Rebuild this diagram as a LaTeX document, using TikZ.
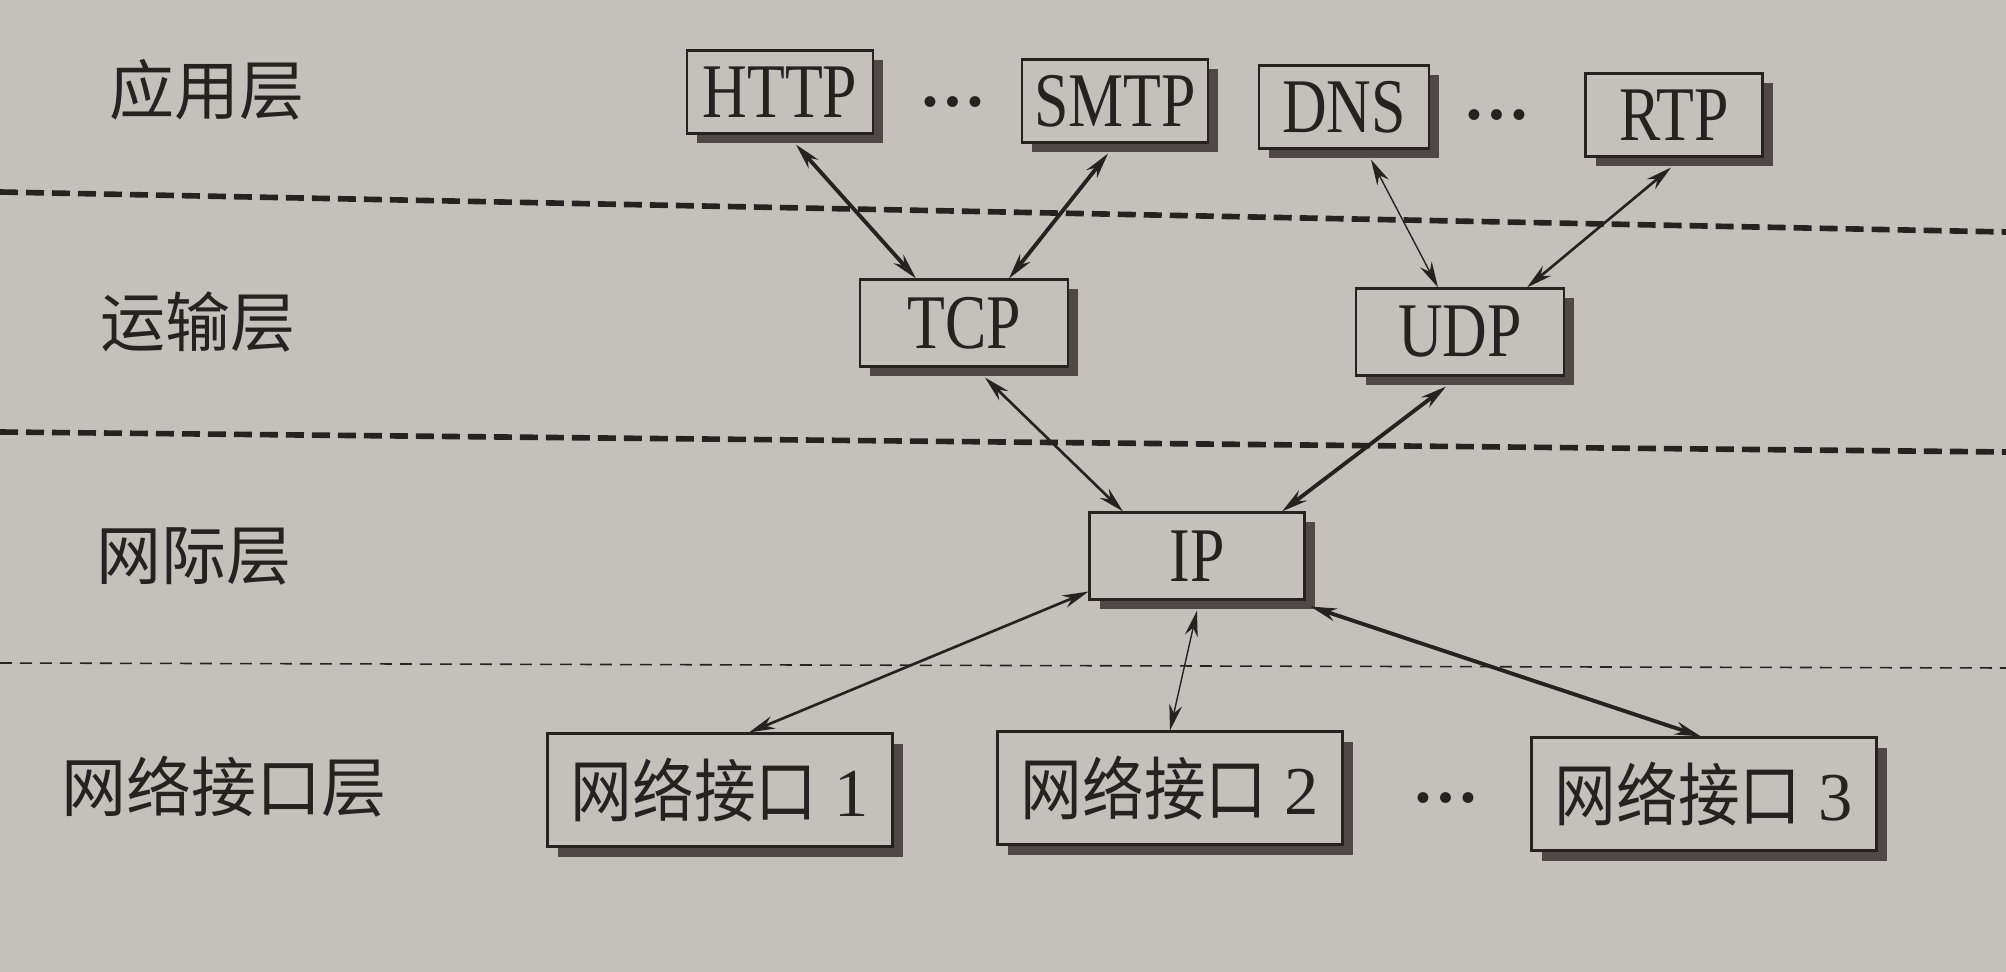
\documentclass[tikz,border=0pt]{standalone}
\usepackage{fontspec}
\setmainfont{Liberation Serif}
\newfontfamily\cjk{Noto Sans CJK SC}
\newfontfamily\cjktall[FakeStretch=0.9]{Noto Sans CJK SC}
\newfontfamily\boxfont[FakeStretch=0.8]{Liberation Serif}
\usetikzlibrary{arrows.meta,shadows}
\definecolor{paper}{RGB}{196,193,189}
\definecolor{ink}{RGB}{38,34,34}
\definecolor{shade}{RGB}{78,73,72}

\begin{document}
\begin{tikzpicture}[x=0.1mm, y=-0.1mm,
  layer/.style={font=\cjk\fontsize{18.5}{18.5}\selectfont, text=ink},
  proto/.style={rectangle, draw=ink, line width=0.6pt, fill=paper, inner sep=0pt,
                minimum width=18.6mm, minimum height=8.3mm, text=ink,
                font=\boxfont\fontsize{22}{22}\selectfont,
                drop shadow={shadow xshift=1mm, shadow yshift=-1mm, fill=shade, opacity=1}},
  midbox/.style={proto, minimum width=20.8mm, minimum height=8.7mm},
  iface/.style={proto, minimum width=34.5mm, minimum height=11.3mm, font=\fontsize{19.5}{19.5}\selectfont},
  more/.style={font=\bfseries\fontsize{19}{19}\selectfont, text=ink},
  sep/.style={draw=ink, line width=1.6pt, dash pattern=on 1.8mm off 0.8mm},
  thinsep/.style={draw=ink, line width=0.45pt, dash pattern=on 1.2mm off 0.8mm},
  arr/.style={{Stealth[length=2.6mm, width=1.3mm]}-{Stealth[length=2.6mm, width=1.3mm]}, draw=ink, line width=1.1pt},
  arrmid/.style={arr, line width=0.75pt},
  arrthin/.style={arr, line width=0.4pt}]
  \fill[paper] (0,0) rectangle (2006,972);
  \useasboundingbox (0,0) rectangle (2006,972);

  \node[layer] (app) at (207,90) {应用层};
  \node[layer] (trans) at (198,322) {运输层};
  \node[layer] (inet) at (194,556) {网际层};
  \node[layer] (link) at (224,787) {网络接口层};

  \draw[sep] (0,192) -- (2006,232);
  \draw[sep] (0,432) -- (2006,452);
  \draw[thinsep] (0,663) -- (2006,668);

  \node[proto] (http) at (780,92) {HTTP};
  \node[more] (dotsA) at (953,102) {…};
  \node[proto] (smtp) at (1115,101) {SMTP};
  \node[proto, minimum width=17mm] (dns) at (1344,107) {DNS};
  \node[more] (dotsB) at (1497,115) {…};
  \node[proto, minimum width=17.7mm] (rtp) at (1674,115) {RTP};

  \node[midbox] (tcp) at (964,323) {TCP};
  \node[midbox] (udp) at (1460,332) {UDP};
  \node[midbox, minimum width=21.5mm] (ip) at (1197,556) {IP};

  \node[iface] (if1) at (720,790) {{\cjktall 网络接口} 1};
  \node[iface] (if2) at (1170,788) {{\cjktall 网络接口} 2};
  \node[more] (dotsC) at (1446,798) {…};
  \node[iface] (if3) at (1704,794) {{\cjktall 网络接口} 3};

  \draw[arr] ([xshift=1.6mm, yshift=-1mm]http.south) -- ([xshift=-4.8mm]tcp.north);
  \draw[arr] ([xshift=-0.7mm, yshift=-1mm]smtp.south) -- ([xshift=4.5mm]tcp.north);
  \draw[arrthin] ([xshift=2.7mm, yshift=-1mm]dns.south) -- ([xshift=-2.2mm]udp.north);
  \draw[arrmid] ([xshift=-0.3mm, yshift=-1mm]rtp.south) -- ([xshift=6.7mm]udp.north);
  \draw[arrmid] ([xshift=2.1mm, yshift=-1mm]tcp.south) -- ([xshift=-7.4mm]ip.north);
  \draw[arr] ([xshift=-1.4mm, yshift=-1mm]udp.south) -- ([xshift=8.5mm]ip.north);
  \draw[arrmid] ([yshift=0.9mm]ip.south west) -- ([xshift=2.9mm]if1.north);
  \draw[arrthin] ([yshift=-1mm]ip.south) -- (if2.north);
  \draw[arr] ([xshift=0.5mm, yshift=-0.6mm]ip.south east) -- ([xshift=-0.3mm]if3.north);
\end{tikzpicture}
\end{document}
